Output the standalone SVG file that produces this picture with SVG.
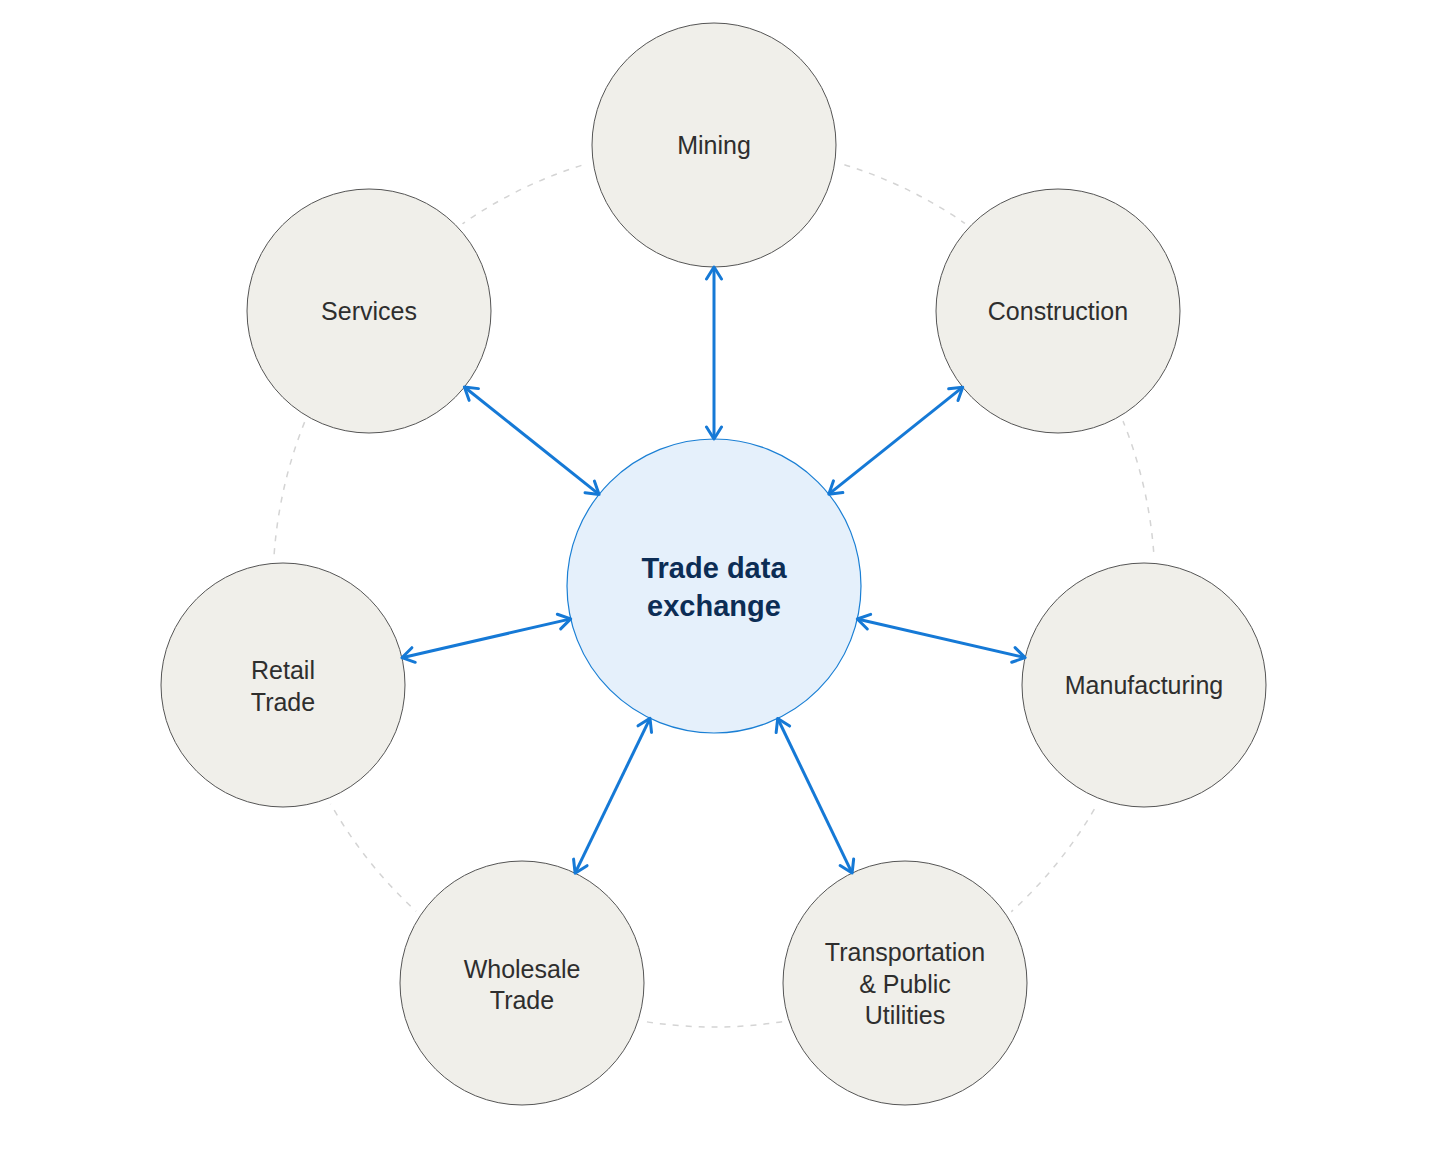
<svg xmlns="http://www.w3.org/2000/svg" width="1433" height="1150" viewBox="0 0 1433 1150">
<style>
.halo{fill:#ffffff;stroke:none}
.node{fill:#f0efea;stroke:#555555;stroke-width:1}
.lbl{font-family:"Liberation Sans",Arial,sans-serif;font-size:25px;fill:#2e2e2e;text-anchor:middle}
.hub{fill:#e5f0fb;stroke:#1a7fd4;stroke-width:1.2}
.hubtxt{font-family:"Liberation Sans",Arial,sans-serif;font-size:29px;font-weight:bold;fill:#0c2d55;text-anchor:middle}
.ring{fill:none;stroke:#d4d4d4;stroke-width:1.5;stroke-dasharray:6 7}
.conn{stroke:#1579d6;stroke-width:3;fill:none;marker-start:url(#arr);marker-end:url(#arr)}
</style>
<defs>
<marker id="arr" markerUnits="userSpaceOnUse" viewBox="-14 -10 16 20" refX="0" refY="0" markerWidth="16" markerHeight="20" orient="auto-start-reverse">
<path d="M -12 -7.5 L 0 0 L -12 7.5" fill="none" stroke="#1579d6" stroke-width="3" stroke-linecap="round" stroke-linejoin="round"/>
</marker>
</defs>
<rect width="1433" height="1150" fill="#ffffff"/>
<circle class="ring" cx="714" cy="586" r="441"/>
<g id="halos">
<circle class="halo" cx="714" cy="145" r="128"/>
<circle class="halo" cx="369" cy="311" r="128"/>
<circle class="halo" cx="1058" cy="311" r="128"/>
<circle class="halo" cx="283" cy="685" r="128"/>
<circle class="halo" cx="1144" cy="685" r="128"/>
<circle class="halo" cx="522" cy="983" r="128"/>
<circle class="halo" cx="905" cy="983" r="128"/>
</g>
<g id="node-mining">
<circle class="node" cx="714" cy="145" r="122"/>
<text class="lbl" x="714" y="154">Mining</text>
</g>
<g id="node-services">
<circle class="node" cx="369" cy="311" r="122"/>
<text class="lbl" x="369" y="320">Services</text>
</g>
<g id="node-construction">
<circle class="node" cx="1058" cy="311" r="122"/>
<text class="lbl" x="1058" y="320">Construction</text>
</g>
<g id="node-retail">
<circle class="node" cx="283" cy="685" r="122"/>
<text class="lbl" x="283" y="679">Retail</text>
<text class="lbl" x="283" y="711">Trade</text>
</g>
<g id="node-manufacturing">
<circle class="node" cx="1144" cy="685" r="122"/>
<text class="lbl" x="1144" y="694">Manufacturing</text>
</g>
<g id="node-wholesale">
<circle class="node" cx="522" cy="983" r="122"/>
<text class="lbl" x="522" y="978">Wholesale</text>
<text class="lbl" x="522" y="1009">Trade</text>
</g>
<g id="node-transport">
<circle class="node" cx="905" cy="983" r="122"/>
<text class="lbl" x="905" y="961">Transportation</text>
<text class="lbl" x="905" y="993">&amp; Public</text>
<text class="lbl" x="905" y="1024">Utilities</text>
</g>
<g id="node-hub">
<circle class="hub" cx="714" cy="586" r="147"/>
<text class="hubtxt" x="714" y="578">Trade data</text>
<text class="hubtxt" x="714" y="616">exchange</text>
</g>
<g id="connectors">
<line class="conn" x1="714" y1="439" x2="714" y2="267"/>
<line class="conn" x1="828.8" y1="494.2" x2="962.7" y2="387.2"/>
<line class="conn" x1="599.1" y1="494.4" x2="464.4" y2="387.0"/>
<line class="conn" x1="570.7" y1="618.9" x2="401.9" y2="657.7"/>
<line class="conn" x1="857.3" y1="619.0" x2="1025.1" y2="657.6"/>
<line class="conn" x1="650.0" y1="718.3" x2="575.1" y2="873.2"/>
<line class="conn" x1="777.7" y1="718.5" x2="852.1" y2="873.1"/>
</g>
</svg>
